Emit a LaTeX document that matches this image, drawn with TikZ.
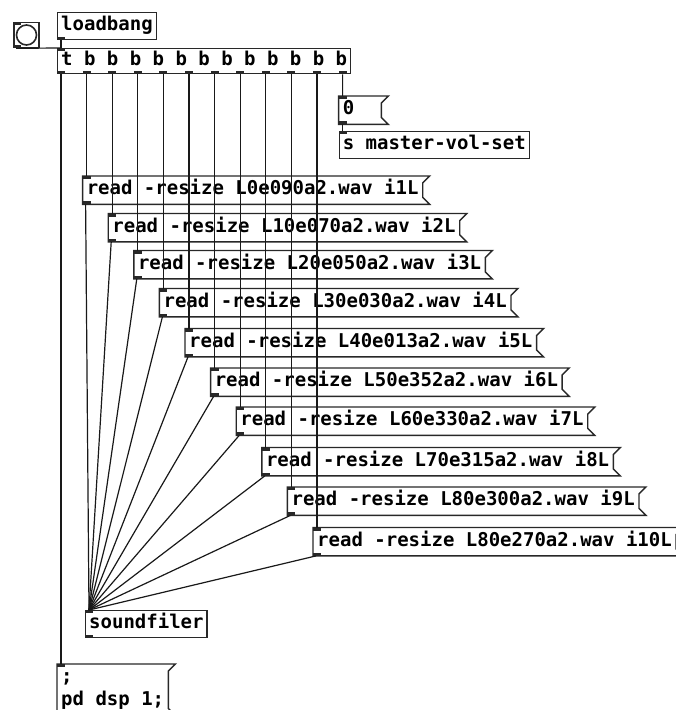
\documentclass[tikz,border=0pt]{standalone}
\usepackage{fontspec}
\setmonofont{DejaVu Sans Mono}
\usepackage{tikz}
\definecolor{pdEdge}{RGB}{40,40,40}
\definecolor{pdWire}{RGB}{25,25,25}

\begin{document}
\begin{tikzpicture}[x=1pt, y=-1pt,
    pdobj/.style={draw=pdEdge, line width=1.4pt, anchor=north west,
      inner xsep=3.5pt, inner ysep=2pt,
      font=\fontsize{19}{23}\selectfont\ttfamily\bfseries,
      execute at begin node=\strut},
    pdmsg/.style={pdobj, draw=none},
    msgedge/.style={pdEdge, line width=1.4pt},
    wire/.style={pdWire, line width=1.2pt},
    port/.style={fill=pdEdge}]
  \useasboundingbox (0,0) rectangle (676,710);
  \fill[white] (0,0) rectangle (676,710);
  \clip (0,0) rectangle (676,710);

  % bang and loadbang
  \node[draw=pdEdge, line width=1.6pt, minimum size=25pt, inner sep=0pt] (bng) at (26.5,35) {};
  \draw[pdEdge, line width=1.6pt] (bng.center) circle (10pt);
  \node[pdobj] (lb) at (57,12) {loadbang};

  % trigger
  \node[pdobj, inner ysep=1pt] (trig) at (57,48) {t b b b b b b b b b b b b};

  % master volume
  \node[pdmsg] (zero) at (338.6,96) {0\hphantom{00}};
  \node[pdobj] (svol) at (338.6,131) {s master-vol-set};

  % the table loads
  \foreach \k/\y/\file in {1/176/L0e090a2, 2/213.5/L10e070a2, 3/250.5/L20e050a2,
      4/288.5/L30e030a2, 5/328.5/L40e013a2, 6/368/L50e352a2, 7/407/L60e330a2,
      8/447.5/L70e315a2, 9/487/L80e300a2, 10/527.5/L80e270a2}
    \node[pdmsg] (rd\k) at ({57+25.6*\k},\y) {read -resize \file.wav i\k L};

  \node[pdobj] (snd) at (85,610) {soundfiler};
  \node[pdmsg, align=left] (dsp) at (57,664) {\strut;\\pd dsp 1;\strut};

  % message box outlines
  \foreach \m in {zero,dsp,rd1,rd2,rd3,rd4,rd5,rd6,rd7,rd8,rd9,rd10}
    \draw[msgedge] (\m.north west) -- ([xshift=7pt]\m.north east)
      -- ([yshift=-7pt]\m.north east) -- ([yshift=7pt]\m.south east)
      -- ([xshift=7pt]\m.south east) -- (\m.south west) -- cycle;

  % inlets and outlets
  \fill[port] (bng.north west) rectangle ++(8,3);
  \fill[port] (bng.south west) rectangle ++(8,-3);
  \fill[port] (lb.south west) rectangle ++(8,-3);
  \fill[port] (trig.north west) rectangle ++(8,3);
  \foreach \k in {0,...,11}
    \fill[port] ([xshift={25.6*\k}]trig.south west) rectangle ++(8,-3);
  \foreach \n in {zero,svol,snd,dsp,rd1,rd2,rd3,rd4,rd5,rd6,rd7,rd8,rd9,rd10}
    \fill[port] (\n.north west) rectangle ++(8,3);
  \foreach \n in {zero,snd,rd1,rd2,rd3,rd4,rd5,rd6,rd7,rd8,rd9,rd10}
    \fill[port] (\n.south west) rectangle ++(8,-3);

  % connections
  \draw[wire] ([xshift=3pt]bng.south west) -- ([xshift=3pt]trig.north west);
  \draw[wire] ([xshift=4pt]lb.south west) -- ([xshift=4pt]trig.north west);
  \draw[wire] ([xshift=4pt]trig.south west) -- ([xshift=4pt]dsp.north west);
  \draw[wire] ([xshift={4+25.6*11}]trig.south west) -- ([xshift=4pt]zero.north west);
  \draw[wire] ([xshift=4pt]zero.south west) -- ([xshift=4pt]svol.north west);
  \foreach \k in {1,...,10} {
    \draw[wire] ([xshift={4+25.6*\k}]trig.south west) -- ([xshift=4pt]rd\k.north west);
    \draw[wire] ([xshift=3pt]rd\k.south west) -- ([xshift=4pt]snd.north west);
  }
\end{tikzpicture}
\end{document}
